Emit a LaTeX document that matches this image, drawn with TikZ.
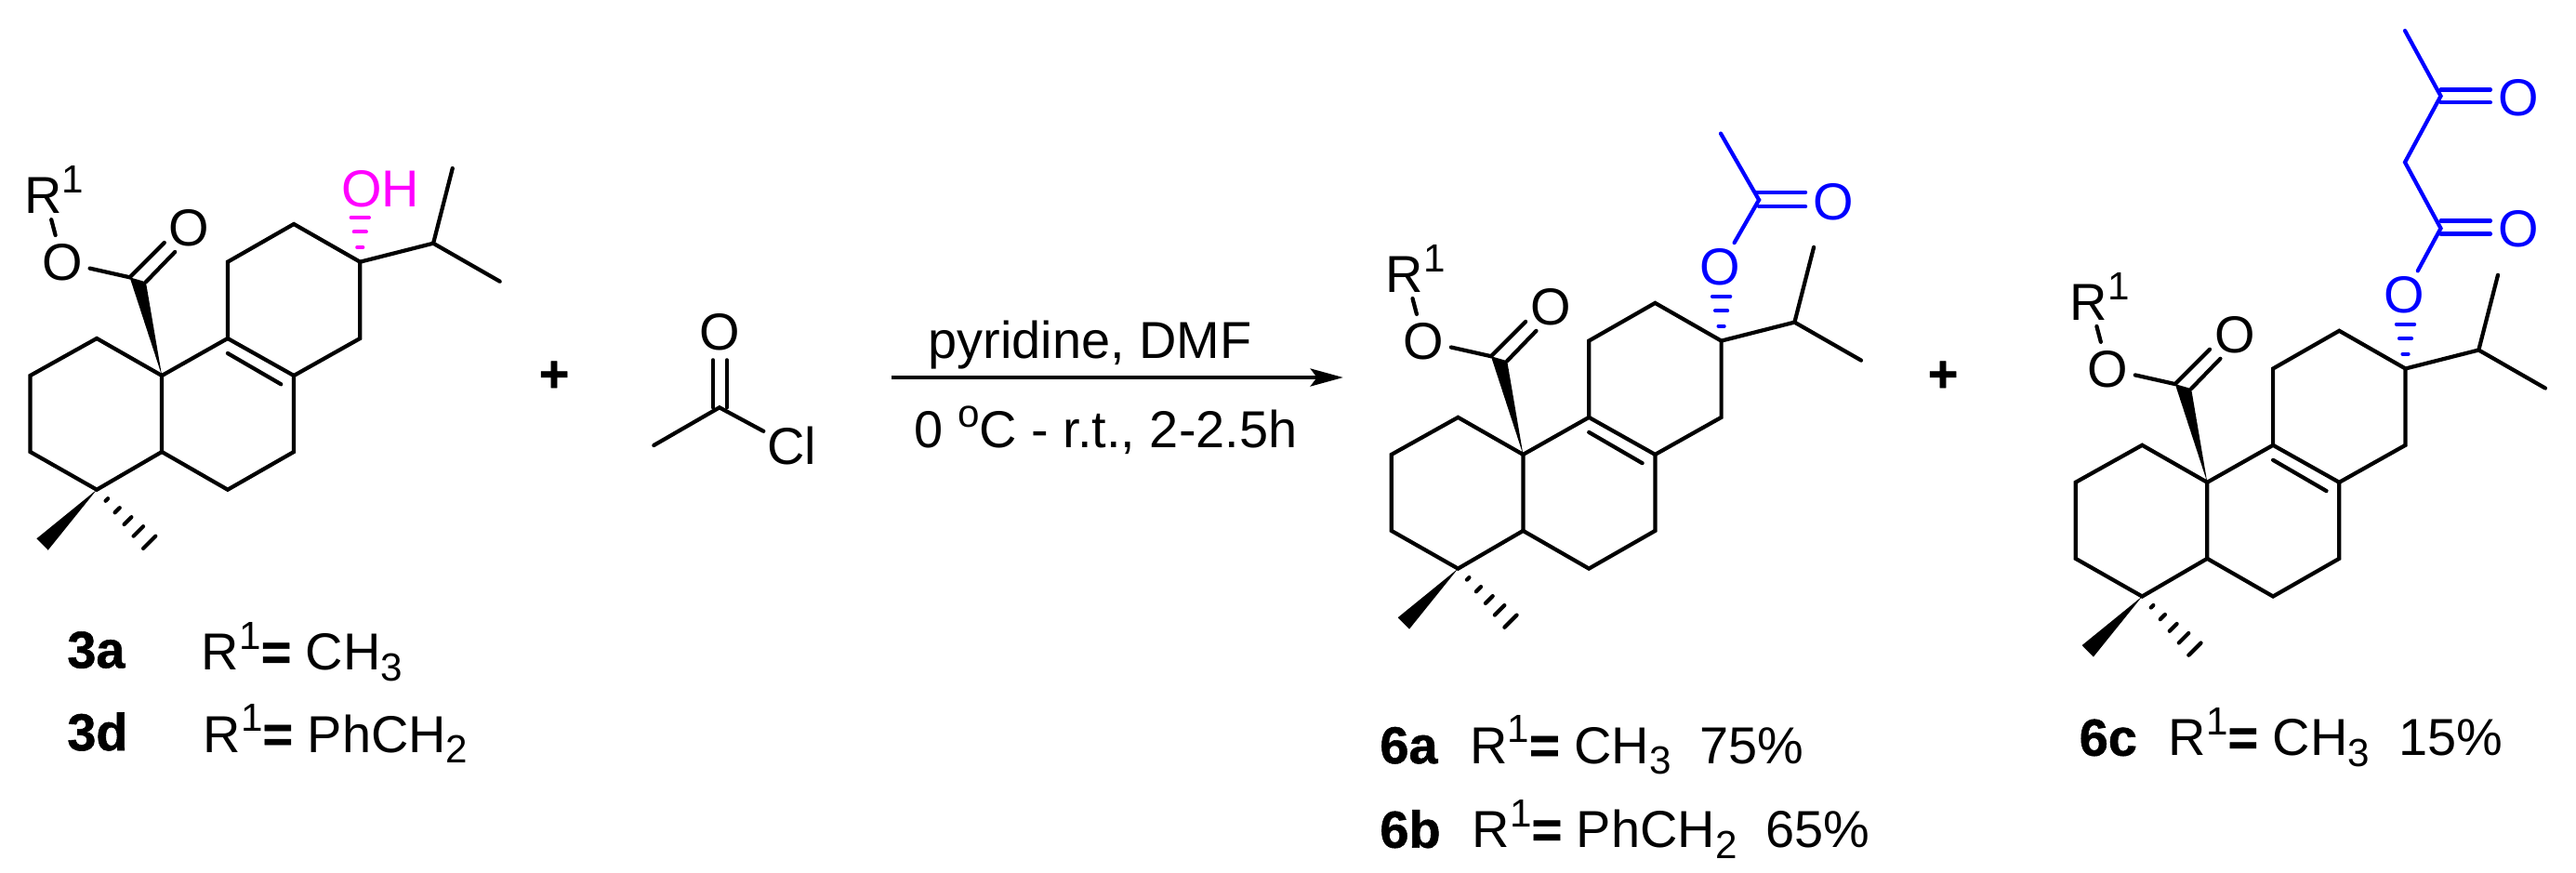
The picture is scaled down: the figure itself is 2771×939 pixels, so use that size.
\documentclass[tikz,border=0pt]{standalone}
\usepackage{fontspec}
\setmainfont{Liberation Sans}[BoldFeatures={FakeBold=1}]
\usetikzlibrary{calc,arrows.meta}
\definecolor{hotpink}{RGB}{255,0,255}
\definecolor{purblue}{RGB}{0,0,255}
\newcommand{\rsup}[1]{\raisebox{6.3pt}{\fontsize{12}{12}\selectfont #1}}
\newcommand{\rsub}[1]{\raisebox{-3.4pt}{\fontsize{12}{12}\selectfont #1}}
\begin{document}
\begin{tikzpicture}[line cap=round,line join=miter,>={Stealth[length=10pt,width=5.4pt,inset=2pt]},x=.01cm,y=-.01cm,font=\fontsize{15.9}{18}\selectfont]
 \tikzset{bond/.style={line width=1.2pt},
 atom/.style={circle,inner sep=0pt},
 txt/.style={anchor=base west,inner sep=0pt},
 pics/core/.style={code={
 \coordinate (ten) at (0,0);
 \coordinate (a1) at (-141.6,0);
 \coordinate (a2) at (-70,-40);
 \coordinate (a3) at (-141.6,82);
 \coordinate (a4) at (-70,122.7);
 \coordinate (a5) at (0,82);
 \coordinate (b1) at (70.8,-40);
 \coordinate (b2) at (142,0);
 \coordinate (b3) at (142,82);
 \coordinate (b4) at (70.8,122.7);
 \coordinate (c1) at (70.8,-122.3);
 \coordinate (c2) at (142,-163);
 \coordinate (c3) at (213.2,-122.3);
 \coordinate (c4) at (213.2,-40);
 \coordinate (ipr) at (292,-142.3);
 \coordinate (me1) at (312.7,-223);
 \coordinate (me2) at (363.6,-101.3);
 \coordinate (co) at (-34.5,-105.7);
 \coordinate (cb) at (-17.2,-100.7);
 \coordinate (hs) at (-13.4,179.3);
 \node[atom] (oe) at (-106.8,-122) {O};
 \node[atom] (ok) at (29.5,-158.3) {O};
 \node[atom] (rr) at (-127.4,-200) {R\rlap{\rsup{1}}};
 \draw[bond] (ten)--(a2)--(a1)--(a3)--(a4)--(a5)--cycle;
 \draw[bond] (ten)--(b1)--(b2)--(b3)--(b4)--(a5);
 \draw[bond] (b1)--(c1)--(c2)--(c3)--(c4)--(b2);
 \draw[bond] (70.8,-24)--(128.2,9.3);
 \draw[bond] (c3)--(ipr)--(me1) (ipr)--(me2);
 \draw[bond] (co)--(oe) (oe)--(rr);
 \draw[bond] (co)--(2.7,-143) (cb)--(14.1,-133);
 \fill (ten)--(co)--(cb)--cycle;
 \fill (a4)--(-134.7,175.3)--(-122.4,187.7)--cycle;
 \foreach \t in {.19,.39,.59,.79,1}
 \draw[bond] ($(a4)!\t!(hs)+(6.6*\t,-6.6*\t)$)--($(a4)!\t!(hs)-(6.6*\t,-6.6*\t)$);
 \foreach \y/\w in {-170/9.6,-154.7/6.5,-138/3}
 \draw[bond,#1] (213.2-\w,\y)--(213.2+\w,\y);
 }}}
 \path[use as bounding box] (0,0) rectangle (2771,939);
 \pic (ma) at (174.1,404) {core=hotpink};
 \pic (mb) at (1638.4,488.9) {core=purblue};
 \pic (mc) at (2374.3,518.8) {core=purblue};
 \node[txt,hotpink] (oh) at (366.6,222.7) {OH};
 \node (pla) at (596,405) {\textbf{+}};
 \node (plb) at (2090,405) {\textbf{+}};
 \coordinate (acc) at (773.9,438.3);
 \coordinate (acm) at (703.3,479);
 \coordinate (acu) at (767,438.3);
 \coordinate (acv) at (781.9,438.3);
 \node[atom] (aco) at (773.9,357.3) {O};
 \node[atom] (acl) at (851.4,480) {Cl};
 \draw[bond] (acm)--(acc)--(acl);
 \draw[bond] (acu)--(acu|-aco.south) (acv)--(acv|-aco.south);
 \coordinate (arra) at (958.7,406);
 \coordinate (arrb) at (1444.8,406);
 \draw[->,line width=1.1pt,line cap=butt] (arra)--(arrb);
 \node[anchor=base,inner sep=0pt] (cona) at (1172.8,385) {pyridine, DMF};
 \node[anchor=base,inner sep=0pt] (conb) at (1189.5,481.7) {0 \rsup{o}C - r.t., 2-2.5h};
 \node[atom,purblue] (boa) at (1850.7,287.1) {O};
 \node[atom,purblue] (bob) at (1972.1,216.8) {O};
 \coordinate (bcc) at (1892.1,215);
 \coordinate (bme) at (1851,143.6);
 \coordinate (bda) at (1888.4,206.8);
 \coordinate (bdb) at (1892.1,222.1);
 \draw[bond,purblue] (boa)--(bcc)--(bme);
 \draw[bond,purblue] (bda)--(bda-|bob.west) (bdb)--(bdb-|bob.west);
 \node[atom,purblue] (coa) at (2586.5,317.7) {O};
 \node[atom,purblue] (cob) at (2708.9,246.6) {O};
 \node[atom,purblue] (coc) at (2708.9,105.1) {O};
 \coordinate (cca) at (2625.5,245.6);
 \coordinate (ccb) at (2587,174.5);
 \coordinate (ccc) at (2625.5,103.3);
 \coordinate (cme) at (2587,33);
 \coordinate (cda) at (2625.5,237.4);
 \coordinate (cdb) at (2625.5,251.6);
 \coordinate (cdc) at (2625.5,96.4);
 \coordinate (cdd) at (2625.5,110.2);
 \draw[bond,purblue] (coa)--(cca)--(ccb)--(ccc)--(cme);
 \draw[bond,purblue] (cda)--(cda-|cob.west) (cdb)--(cdb-|cob.west);
 \draw[bond,purblue] (cdc)--(cdc-|coc.west) (cdd)--(cdd-|coc.west);
 \node[txt] (lta) at (71.6,718.3) {\textbf{3a}};
 \node[txt] (ltb) at (216.2,720.7) {R\rsup{1}\textbf{=} CH\rsub{3}};
 \node[txt] (ltc) at (71.6,807) {\textbf{3d}};
 \node[txt] (ltd) at (218,809) {R\rsup{1}\textbf{=} PhCH\rsub{2}};
 \node[txt] (lsa) at (1483.7,821) {\textbf{6a}};
 \node[txt] (lsb) at (1580.6,821) {R\rsup{1}\textbf{=} CH\rsub{3}\ \ 75\%};
 \node[txt] (lsc) at (1483.7,911.7) {\textbf{6b}};
 \node[txt] (lsd) at (1583.1,911.7) {R\rsup{1}\textbf{=} PhCH\rsub{2}\ \ 65\%};
 \node[txt] (lse) at (2236,812.7) {\textbf{6c}};
 \node[txt] (lsf) at (2332,812.7) {R\rsup{1}\textbf{=} CH\rsub{3}\ \ 15\%};
\end{tikzpicture}
\end{document}
